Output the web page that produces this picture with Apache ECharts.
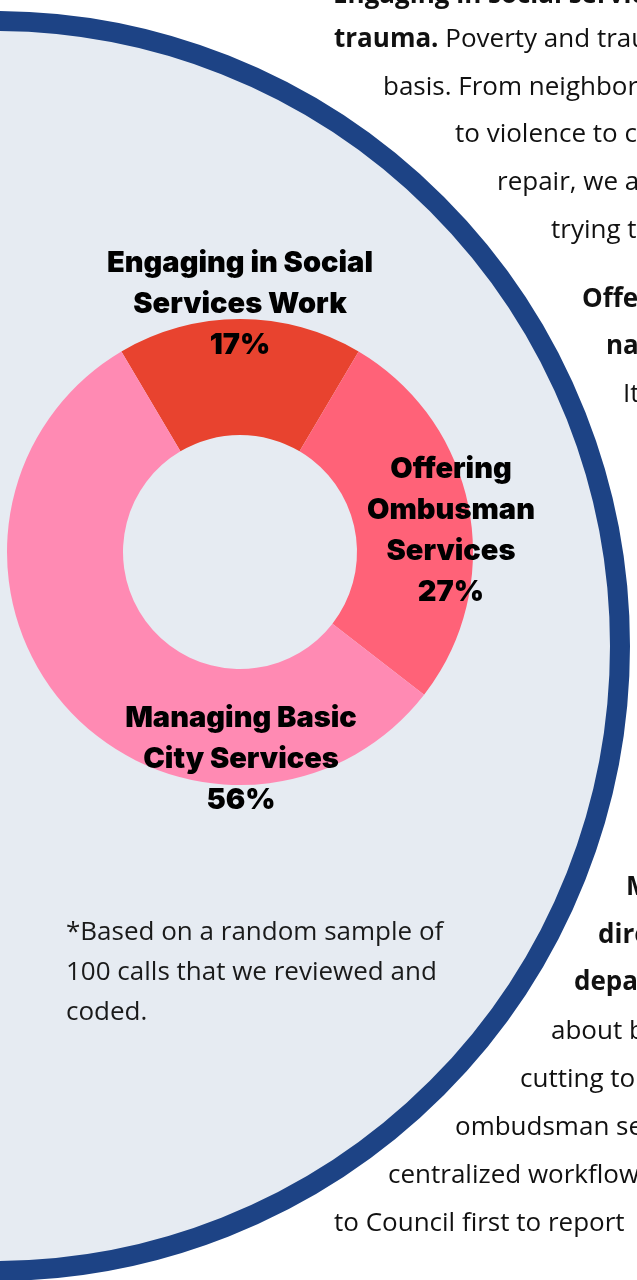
<!DOCTYPE html>
<html>
<head>
<meta charset="utf-8">
<script src="https://cdn.jsdelivr.net/npm/echarts@6/dist/echarts.min.js"></script>
<style>
  html, body { margin: 0; padding: 0; background: #fff; }
  #main { width: 637px; height: 1280px; }
</style>
</head>
<body>
<div id="main"></div>
<script>
// share of sampled calls, by type of work
var categories = ['Engaging in Social\nServices Work', 'Offering\nOmbusman\nServices', 'Managing Basic\nCity Services'];
var shares = [17, 27, 56];
var sliceColors = ['#e8432f', '#ff6278', '#ff8ab3'];

// where each label block sits (centre of the text block)
var labelSpots = [[240, 304], [451, 531], [241, 759]];

// text running round the right side of the page: [text, x, y, bold part]
var sideLines = [
  ['', 333, -4, 'Engaging in social services work and'],
  [' Poverty and trauma', 334, 40, 'trauma.'],
  ['basis. From neighborhood', 383, 88, ''],
  ['to violence to community', 455, 135, ''],
  ['repair, we are', 497, 183, ''],
  ['trying to', 551, 231, ''],
  ['', 582, 300, 'Offering'],
  ['', 606, 347, 'navigation'],
  ['It is', 623, 395, ''],
  ['', 626, 888, 'Managing'],
  ['', 598, 936, 'direct'],
  ['', 574, 983, 'department'],
  ['about basic', 551, 1032, ''],
  ['cutting to the', 520, 1080, ''],
  ['ombudsman services', 455, 1128, ''],
  ['centralized workflow that', 388, 1176, ''],
  ['to Council first to report', 334, 1224, '']
];

var footnote = '*Based on a random sample of\n100 calls that we reviewed and\ncoded.';

var bodyFont = 'Open Sans';
var bodySize = 26;

var myChart = echarts.init(document.getElementById('main'));

var graphics = [{
  type: 'circle',
  z: 0,
  silent: true,
  shape: { cx: -5, cy: 646, r: 625 },
  style: { fill: '#e6ebf2', stroke: '#1d4385', lineWidth: 20 }
}, {
  type: 'text',
  z: 1,
  left: 66,
  top: 913,
  style: {
    text: footnote,
    font: bodySize + 'px "' + bodyFont + '"',
    lineHeight: 40,
    fill: '#1a1a1a'
  }
}];

sideLines.forEach(function (l) {
  var txt = (l[3] ? '{b|' + l[3] + '}' : '') + (l[0] ? '{n|' + l[0] + '}' : '');
  graphics.push({
    type: 'text',
    z: 1,
    x: l[1],
    y: l[2],
    silent: true,
    style: {
      text: txt,
      verticalAlign: 'middle',
      rich: {
        b: { fontFamily: bodyFont, fontWeight: 'bold', fontSize: bodySize, fill: '#111' },
        n: { fontFamily: bodyFont, fontSize: bodySize, fill: '#111' }
      }
    }
  });
});

var option = {
  backgroundColor: '#ffffff',
  animation: false,
  graphic: graphics,
  series: [{
    type: 'pie',
    z: 5,
    silent: true,
    center: [240, 552],
    radius: [117, 233],
    startAngle: 120.6,
    clockwise: true,
    avoidLabelOverlap: false,
    itemStyle: { borderWidth: 0 },
    label: {
      show: true,
      position: 'inside',
      formatter: function (p) { return p.name + '\n' + p.value + '%'; },
      fontFamily: 'Inter',
      fontWeight: 900,
      fontSize: 29,
      lineHeight: 41,
      color: '#000',
      align: 'center'
    },
    labelLine: { show: false },
    labelLayout: function (params) {
      var spot = labelSpots[params.dataIndex];
      return { x: spot[0], y: spot[1], align: 'center', verticalAlign: 'middle' };
    },
    data: categories.map(function (c, i) {
      return { name: c, value: shares[i], itemStyle: { color: sliceColors[i] } };
    })
  }]
};

myChart.setOption(option);
</script>
</body>
</html>
